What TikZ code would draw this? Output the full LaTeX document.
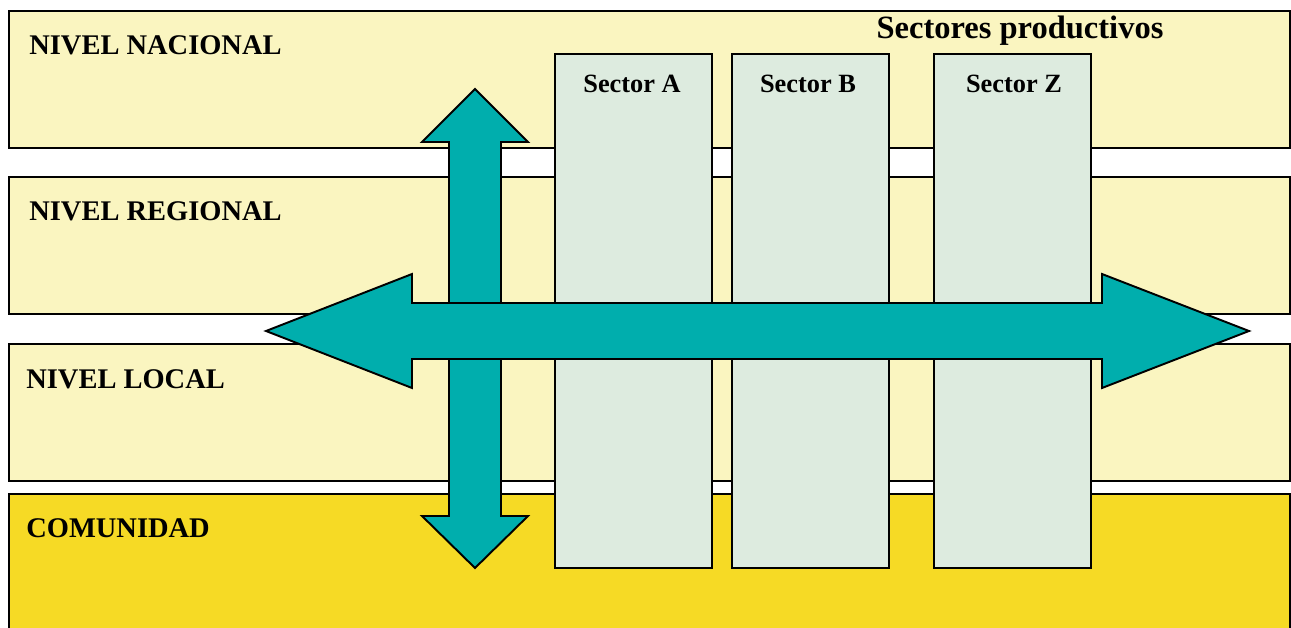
\documentclass[tikz,border=0pt]{standalone}
\usepackage{fontspec}
\setmainfont{Liberation Serif}
\definecolor{banda}{RGB}{250,245,192}
\definecolor{comunidad}{RGB}{246,218,37}
\definecolor{sectorfondo}{RGB}{221,235,223}
\definecolor{turquesa}{RGB}{0,174,173}
\tikzset{
	nivel/.style={draw=black, line width=1.1pt, fill=banda},
	sectorbox/.style={draw=black, line width=1.1pt, fill=sectorfondo},
	flecha/.style={draw=black, line width=1.1pt, fill=turquesa, line join=miter},
	etiqueta/.style={anchor=base west, inner sep=0pt, font=\bfseries\fontsize{16.2}{19}\selectfont},
	rotulo/.style={anchor=base, inner sep=0pt, font=\bfseries\fontsize{15}{18}\selectfont}
}
\begin{document}
\begin{tikzpicture}[x=0.02cm, y=-0.02cm]
			\useasboundingbox (0,0) rectangle (1291,628);
			\clip (0,0) rectangle (1291,628);
			% franjas
			\draw[nivel] (9,11) rectangle (1290,148);
			\draw[nivel] (9,177) rectangle (1290,314);
			\draw[nivel] (9,344) rectangle (1290,481);
			\draw[nivel, fill=comunidad] (9,494) rectangle (1290,650);
			\node[etiqueta] (nacional) at (29,55) {NIVEL NACIONAL};
			\node[etiqueta] (regional) at (29,221) {NIVEL REGIONAL};
			\node[etiqueta] (local) at (26,388) {NIVEL LOCAL};
			\node[etiqueta] (comun) at (26,537) {COMUNIDAD};
			\node[rotulo, font=\bfseries\fontsize{18.5}{21}\selectfont] (titulo) at (1020,39) {Sectores productivos};
			% flecha vertical
			\draw[flecha] (449,142) -- (422,142) -- (475,89) -- (528,142) -- (501,142)
				-- (501,516) -- (528,516) -- (475,568) -- (422,516) -- (449,516) -- cycle;
			% sectores
			\draw[sectorbox] (555,54) rectangle (712,568);
			\draw[sectorbox] (732,54) rectangle (889,568);
			\draw[sectorbox] (934,54) rectangle (1091,568);
			\node[rotulo] (secA) at (632,93) {Sector A};
			\node[rotulo] (secB) at (808,93) {Sector B};
			\node[rotulo] (secZ) at (1014,93) {Sector Z};
			% flecha horizontal
			\draw[flecha] (266,331) -- (412,274) -- (412,303) -- (1102,303) -- (1102,274)
				-- (1249,331) -- (1102,388) -- (1102,359) -- (412,359) -- (412,388) -- cycle;
\end{tikzpicture}
\end{document}
